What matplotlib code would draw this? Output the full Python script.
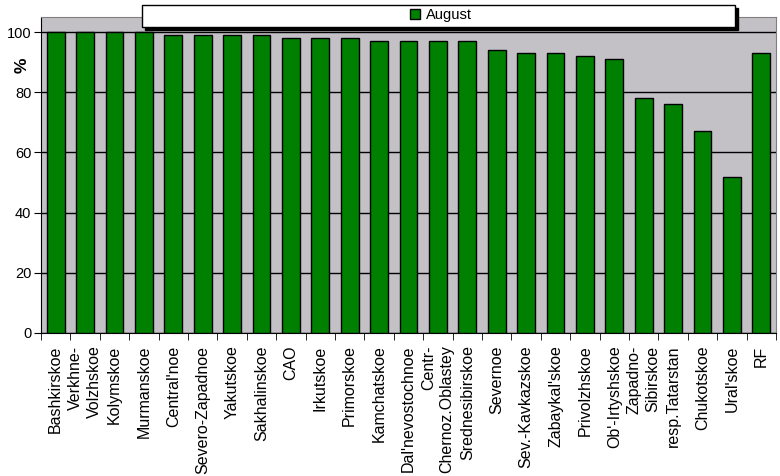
import matplotlib.pyplot as plt
import numpy as np
from matplotlib.patches import Rectangle

plt.rcParams['font.family'] = ['Liberation Sans', 'DejaVu Sans']

regions = ["Bashkirskoe", "Verkhne-\nVolzhskoe", "Kolymskoe", "Murmanskoe", "Central'noe",
           "Severo-Zapadnoe", "Yakutskoe", "Sakhalinskoe", "CAO", "Irkutskoe", "Primorskoe",
           "Kamchatskoe", "Dal'nevostochnoe", "Centr-\nChernoz.Oblastey", "Srednesibirskoe",
           "Severnoe", "Sev.-Kavkazskoe", "Zabaykal'skoe", "Privolzhskoe", "Ob'-Irtyshskoe",
           "Zapadno-\nSibirskoe", "resp.Tatarstan", "Chukotskoe", "Ural'skoe", "RF"]
august = [100, 100, 100, 100, 99, 99, 99, 99, 98, 98, 98, 97, 97, 97, 97,
          94, 93, 93, 92, 91, 78, 76, 67, 52, 93]

fig = plt.figure(figsize=(7.8, 4.76), dpi=100)
ax = fig.add_axes([41/780, 1 - 333/476, (776-41)/780, (333-17)/476])
ax.set_facecolor('#C3C1C6')

x = np.arange(len(august))
ax.bar(x, august, width=0.6, color='#008000', edgecolor='black', linewidth=1,
       label='August', zorder=3)

ax.set_xlim(-0.5, len(august) - 0.5)
ax.set_ylim(0, 105)
ax.set_yticks([0, 20, 40, 60, 80, 100])
ax.yaxis.grid(True, color='black', linewidth=1, zorder=1)
ax.set_axisbelow(True)

# category labels centered, ticks between categories
ax.set_xticks(x)
ax.set_xticklabels(regions, rotation=90, fontsize=11.5, va='top', ha='center',
                   multialignment='right', linespacing=1.3)
ax.tick_params(axis='x', length=0, pad=9)
ax.set_xticks(np.arange(len(august) + 1) - 0.5, minor=True)
ax.tick_params(axis='x', which='minor', length=5, direction='out', color='black')
ax.tick_params(axis='y', labelsize=10.5, length=5, direction='out', pad=2)

for s in ['top', 'right']:
    ax.spines[s].set_color('#808080')
for s in ['left', 'bottom']:
    ax.spines[s].set_color('black')

ax.set_ylabel('%', fontsize=12.5, fontweight='bold')
ax.yaxis.set_label_coords(-0.015, 0.848)

# legend box with shadow
fig.patches.append(Rectangle((145/780, 1 - 30/476), 593/780, 22/476, transform=fig.transFigure,
                             facecolor='black', edgecolor='black', zorder=5))
fig.patches.append(Rectangle((142/780, 1 - 27/476), 593/780, 22/476, transform=fig.transFigure,
                             facecolor='white', edgecolor='black', linewidth=1, zorder=6))
leg = fig.legend(loc='center', bbox_to_anchor=(441/780, 1 - 15/476), frameon=False,
                 fontsize=10.5, handlelength=0.7, handleheight=0.7, handletextpad=0.4,
                 borderpad=0)
leg.set_zorder(7)

fig.savefig('out.png', dpi=100)
